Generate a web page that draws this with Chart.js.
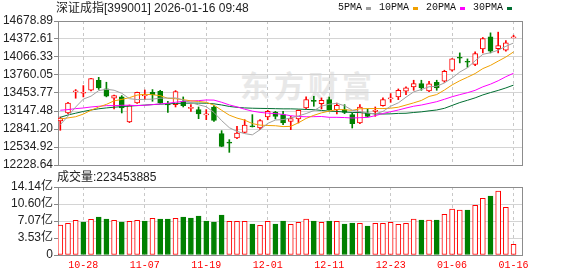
<!DOCTYPE html>
<html><head><meta charset="utf-8">
<script src="https://cdn.jsdelivr.net/npm/chart.js@4/dist/chart.umd.min.js"></script>
<style>
html,body{margin:0;padding:0;background:#fff;}
#wrap{position:relative;width:578px;height:276px;overflow:hidden;font-family:"Liberation Sans","Noto Sans CJK SC",sans-serif;}
canvas{position:absolute;left:0;top:0;}
.t{position:absolute;white-space:nowrap;}
#legend{position:absolute;left:338px;top:2px;display:flex;align-items:center;font-family:"Liberation Mono",monospace;font-size:10px;line-height:12px;color:#111;}
#legend .sq{display:inline-block;width:5px;height:3px;margin-left:4px;margin-right:8px;}
</style></head><body>
<div id="wrap">
  <div class="t" id="wm" style="left:240px;top:66px;font-size:30px;font-weight:bold;color:#e8e8e8;font-family:'Noto Sans CJK SC';letter-spacing:4px;line-height:36px;">东方财富</div>
  <canvas id="main" width="578" height="276"></canvas>
  <canvas id="vol" width="578" height="276"></canvas>
  <div class="t" id="title" style="left:56px;top:1px;font-size:12px;line-height:14px;color:#222;"></div>
  <div id="legend"></div>
  <div class="t" id="voltitle" style="left:57px;top:170px;font-size:12px;line-height:14px;color:#222;"></div>
</div>
<script>
const titleText = '深证成指[399001] 2026-01-16 09:48';
const volTitleText = '成交量:223453885';
const seriesNames = ['5PMA','10PMA','20PMA','30PMA'];
const seriesColors = ['#a0a0a0','#f0a000','#ff00ff','#006e32'];

const dates = ['10-23','10-24','10-27','10-28','10-29','10-30','10-31',
 '11-03','11-04','11-05','11-06','11-07','11-10','11-11','11-12','11-13','11-14',
 '11-17','11-18','11-19','11-20','11-21','11-24','11-25','11-26','11-27','11-28',
 '12-01','12-02','12-03','12-04','12-05','12-08','12-09','12-10','12-11','12-12',
 '12-15','12-16','12-17','12-18','12-19','12-22','12-23','12-24','12-25','12-26',
 '12-29','12-30','12-31','01-05','01-06','01-07','01-08','01-09','01-12','01-13',
 '01-14','01-15','01-16'];
const xTickLabels = ['10-28','11-07','11-19','12-01','12-11','12-23','01-06','01-16'];
const yTicks = [12228.64,12534.92,12841.20,13147.48,13453.77,13760.05,14066.33,14372.61,14678.89];
const volTicks = [0,3.53,7.07,10.60,14.14];

const openP  = [12978,13114,13472,13450,13500,13668,13523,13365,13387,12961,
                13284,13402,13466,13483,13270,13256,13313,13192,13171,13082,
                13216,12762,12610,12688,12785,12890,12858,13046,13131,13086,
                12972,13012,13199,13318,13273,13341,13171,13171,13086,12944,
                13114,13142,13239,13352,13387,13483,13557,13614,13489,13636,
                13654,13841,14062,13983,13938,14205,14409,14210,14182,14392];
const highP  = [13046,13295,13512,13580,13705,13720,13637,13420,13409,13250,
                13470,13505,13512,13500,13313,13495,13387,13256,13216,13171,
                13239,12813,12660,12887,13000,13086,13000,13160,13142,13142,
                13057,13165,13387,13398,13370,13387,13284,13256,13114,13256,
                13182,13216,13370,13443,13523,13557,13671,13671,13654,13671,
                13841,14040,14136,14034,14153,14398,14477,14489,14347,14437];
const lowP   = [12819,13100,13365,13387,13490,13515,13388,13182,13114,12950,
                13278,13340,13313,13278,13125,13216,13216,13142,13017,13000,
                12972,12540,12444,12677,12773,12875,12830,12999,13012,12915,
                12830,12944,13182,13228,13182,13160,13097,13103,12858,12932,
                13046,13057,13228,13295,13341,13426,13500,13500,13477,13500,
                13636,13824,13966,13892,13920,14136,14136,14136,14165,14392];
const closeP = [13029,13284,13490,13458,13699,13540,13398,13410,13199,13239,
                13466,13415,13426,13284,13250,13477,13239,13200,13097,13090,
                12989,12546,12600,12773,12909,12880,12983,13142,13057,12944,
                13017,13159,13341,13310,13330,13171,13245,13125,12932,13216,
                13057,13160,13341,13370,13500,13540,13614,13540,13608,13540,
                13824,14034,14045,13977,14125,14381,14165,14261,14307,14409];

const ma5  = [12915,13060,13215,13350,13400,13494,13517,13501,13449,13357,
              13342,13346,13349,13366,13368,13370,13335,13290,13253,13221,
              13123,12984,12864,12800,12763,12742,12829,12937,12994,13001,
              13029,13064,13104,13154,13231,13262,13279,13236,13161,13138,
              13115,13098,13141,13229,13286,13382,13473,13513,13560,13568,
              13625,13709,13810,13884,14001,14112,14139,14182,14248,14305];
const ma10 = [13012,13030,13050,13095,13160,13215,13260,13320,13345,13375,
              13418,13432,13425,13408,13363,13356,13341,13320,13310,13295,
              13247,13160,13077,13027,12992,12933,12907,12901,12897,12882,
              12886,12947,13021,13074,13116,13146,13172,13170,13158,13185,
              13189,13189,13189,13195,13212,13249,13286,13327,13395,13427,
              13504,13591,13662,13722,13785,13869,13924,13996,14066,14153];
const ma20 = [13160,13171,13188,13199,13216,13228,13239,13239,13245,13245,
              13239,13245,13256,13267,13279,13296,13313,13318,13324,13335,
              13333,13296,13251,13218,13178,13145,13124,13111,13104,13089,
              13067,13054,13049,13051,13054,13040,13040,13036,13028,13034,
              13038,13068,13105,13135,13164,13198,13229,13249,13277,13306,
              13347,13390,13426,13459,13499,13559,13605,13662,13731,13790];
const ma30 = [13040,13080,13110,13140,13165,13185,13200,13212,13222,13230,
              13240,13248,13256,13264,13270,13276,13280,13282,13282,13280,
              13270,13250,13225,13210,13200,13195,13192,13190,13187,13184,
              13184,13180,13174,13170,13157,13145,13140,13130,13122,13121,
              13107,13099,13096,13099,13107,13109,13122,13133,13150,13165,
              13193,13242,13291,13330,13371,13421,13461,13498,13540,13588];
const volume = [6.24,6.58,7.21,6.86,7.42,7.90,7.49,7.21,6.86,7.00,
                7.21,7.07,7.62,7.49,7.49,7.62,7.90,7.69,8.11,7.07,
                6.86,8.32,7.00,7.00,7.00,6.45,6.17,7.00,6.45,7.07,
                6.38,6.79,7.49,7.07,6.79,7.07,7.00,6.45,6.65,6.58,
                6.03,6.58,6.58,6.79,6.38,6.58,7.49,7.28,7.28,7.28,
                8.46,9.56,9.36,9.36,10.33,11.78,12.27,13.31,9.91,2.23];

// text
document.getElementById('title').textContent = titleText;
document.getElementById('voltitle').textContent = volTitleText;
const lg = document.getElementById('legend');
seriesNames.forEach((n,k)=>{
  const s = document.createElement('span'); s.textContent = n; lg.appendChild(s);
  const q = document.createElement('span'); q.className='sq'; q.style.background=seriesColors[k]; lg.appendChild(q);
});

const RED = '#ff0000', GREEN = '#008000';
const idx = dates.map((_, i) => i);
const up = idx.map(i => closeP[i] >= openP[i]);
const volUp = idx.map(i => i === 0 ? up[0] : closeP[i] >= closeP[i-1]);
const tickIdx = xTickLabels.map(l => dates.indexOf(l));
const mas = [ma5, ma10, ma20, ma30];

const frame = {
  id: 'frame',
  beforeDatasetsDraw(chart) {
    const {ctx, chartArea: a} = chart;
    ctx.save();
    ctx.strokeStyle = '#8c8c8c';
    ctx.lineWidth = 1;
    ctx.strokeRect(Math.floor(a.left) + 0.5, Math.floor(a.top) + 0.5, Math.round(a.right - a.left), Math.round(a.bottom - a.top));
    ctx.restore();
  }
};

const xBase = (showLabels) => ({
  type: 'linear', min: -0.3, max: 60.1, offset: false,
  afterBuildTicks(s) { s.ticks = tickIdx.map(v => ({value: v})); },
  ticks: {
    display: showLabels, autoSkip: false, maxRotation: 0, padding: 4,
    color: RED, font: {family: 'Liberation Mono', size: 10},
    callback: v => dates[v]
  },
  grid: {color: '#c8c8c8', drawTicks: false, lineWidth: 1, offset: false},
  border: {display: false, dash: [3, 3]},
  afterFit(s) { s.height = showLabels ? 21 : 0; }
});

Chart.defaults.font.family = "'Liberation Sans','Noto Sans CJK SC',sans-serif";

new Chart(document.getElementById('main'), {
  data: {
    datasets: [
      ...mas.map((m, k) => ({
        type: 'line', label: seriesNames[k],
        data: idx.map(i => ({x: i, y: m[i]})),
        borderColor: seriesColors[k], borderWidth: 1, pointRadius: 0, tension: 0, order: 1
      })),
      {
        type: 'bar', label: 'body',
        data: idx.map(i => ({x: i, y: [Math.min(openP[i], closeP[i]), Math.max(openP[i], closeP[i])]})),
        backgroundColor: up.map(u => u ? '#ffffff' : GREEN),
        borderColor: up.map(u => u ? RED : GREEN),
        borderWidth: 1, borderSkipped: false, barThickness: 5, grouped: false, minBarLength: 1, order: 2
      },
      {
        type: 'bar', label: 'wick',
        data: idx.map(i => ({x: i, y: [lowP[i], highP[i]]})),
        backgroundColor: up.map(u => u ? RED : GREEN),
        barThickness: 1, grouped: false, order: 3
      }
    ]
  },
  options: {
    responsive: false, animation: false, devicePixelRatio: 1, events: [],
    layout: {padding: {top: 21, right: 56, bottom: 111, left: 0}},
    plugins: {legend: {display: false}, tooltip: {enabled: false}},
    scales: {
      x: xBase(false),
      y: {
        min: yTicks[0], max: yTicks[yTicks.length - 1],
        afterBuildTicks(s) { s.ticks = yTicks.map(v => ({value: v})); },
        ticks: {autoSkip: false, color: '#222', padding: 1, font: {size: 12}, callback: v => v.toFixed(2)},
        grid: {color: '#d4d4d4', tickColor: '#888', tickLength: 4},
        border: {color: '#8c8c8c'},
        afterFit(s) { s.width = 58; }
      }
    }
  },
  plugins: [frame]
});

new Chart(document.getElementById('vol'), {
  data: {
    datasets: [{
      type: 'bar', label: 'vol',
      data: idx.map(i => ({x: i, y: volume[i]})),
      backgroundColor: volUp.map(u => u ? '#ffffff' : GREEN),
      borderColor: volUp.map(u => u ? RED : GREEN),
      borderWidth: 1, borderSkipped: false, barThickness: 5, grouped: false
    }]
  },
  options: {
    responsive: false, animation: false, devicePixelRatio: 1, events: [],
    layout: {padding: {top: 187, right: 56, bottom: 0, left: 0}},
    plugins: {legend: {display: false}, tooltip: {enabled: false}},
    scales: {
      x: xBase(true),
      y: {
        min: 0, max: volTicks[volTicks.length - 1],
        afterBuildTicks(s) { s.ticks = volTicks.map(v => ({value: v})); },
        ticks: {autoSkip: false, color: '#222', padding: 1, font: {size: 12}, callback: v => v === 0 ? '0' : v.toFixed(2) + '亿'},
        grid: {color: '#d4d4d4', tickColor: '#888', tickLength: 4},
        border: {color: '#8c8c8c'},
        afterFit(s) { s.width = 58; }
      }
    }
  },
  plugins: [frame]
});
</script>
</body></html>
